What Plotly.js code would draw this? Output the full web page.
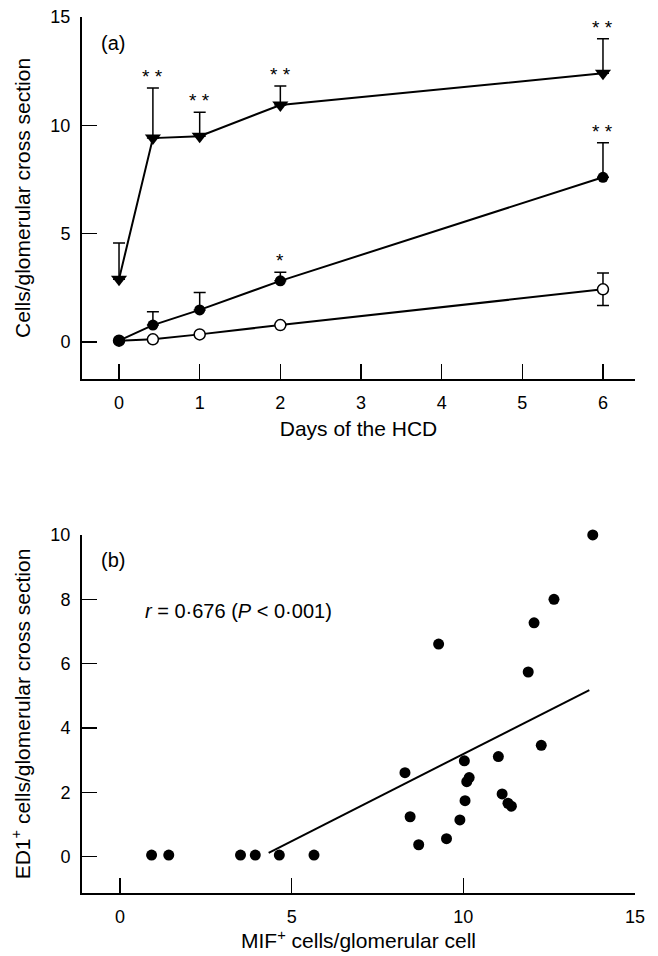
<!DOCTYPE html>
<html>
<head>
<meta charset="utf-8">
<script src="https://cdn.plot.ly/plotly-3.0.1.min.js"></script>
<style>
  html, body { margin: 0; padding: 0; background: #fff; }
  #chart { width: 658px; height: 956px; }
</style>
</head>
<body>
<div id="chart"></div>
<script>
// ---- Panel (a): cells per glomerular cross section over days of HCD ----
const days = [0, 0.42, 1, 2, 6];
const dayTicks = [0, 1, 2, 3, 4, 5, 6];

const triMean = [2.9, 9.41, 9.5, 10.94, 12.4];
const triErr  = [1.67, 2.31, 1.1, 0.87, 1.6];
const triStars = ['', '* *', '* *', '* *', '* *'];

const filledMean = [0.06, 0.78, 1.48, 2.82, 7.6];
const filledErr  = [0, 0.62, 0.8, 0.4, 1.6];
const filledStars = ['', '', '', '*', '* *'];

const openMean = [0.06, 0.12, 0.35, 0.78, 2.43];
const openErr  = [0, 0, 0, 0, 0.75];

// ---- Panel (b): ED1+ vs MIF+ ----
const mifX = [0.92, 1.42, 3.51, 3.94, 4.64, 5.65, 13.77, 12.64, 12.06, 9.28, 11.89, 12.27, 11.02,
              10.03, 8.30, 10.17, 10.10, 11.13, 10.05, 11.30, 11.40, 8.45, 9.90, 9.51, 8.70];
const ed1Y = [0.05, 0.05, 0.05, 0.05, 0.05, 0.05, 10.0, 8.0, 7.27, 6.61, 5.74, 3.46, 3.11,
              2.98, 2.61, 2.46, 2.33, 1.95, 1.74, 1.66, 1.57, 1.24, 1.14, 0.56, 0.37];
const fitX = [4.33, 13.67];
const fitY = [0.12, 5.18];

const zeros = days.map(() => 0);
const lineStyle = {color: '#000', width: 2};
const errStyle = (arr, minus) => ({type: 'data', symmetric: false, array: arr, arrayminus: minus,
                                   color: '#000', thickness: 1.5, width: 6});

const traces = [
  {x: days, y: openMean, xaxis: 'x', yaxis: 'y', mode: 'lines+markers', line: lineStyle, cliponaxis: false,
   marker: {symbol: 'circle', size: 11, color: '#fff', line: {color: '#000', width: 1.5}},
   error_y: errStyle(openErr, openErr), showlegend: false, hoverinfo: 'skip'},
  {x: days, y: filledMean, xaxis: 'x', yaxis: 'y', mode: 'lines+markers', line: lineStyle, cliponaxis: false,
   marker: {symbol: 'circle', size: 11, color: '#000'},
   error_y: errStyle(filledErr, zeros), showlegend: false, hoverinfo: 'skip'},
  {x: days, y: triMean, xaxis: 'x', yaxis: 'y', mode: 'lines+markers', line: lineStyle, cliponaxis: false,
   marker: {symbol: 'triangle-down', size: 14, color: '#000'},
   error_y: errStyle(triErr, zeros), showlegend: false, hoverinfo: 'skip'},
  {x: mifX, y: ed1Y, xaxis: 'x2', yaxis: 'y2', mode: 'markers', cliponaxis: false,
   marker: {symbol: 'circle', size: 11, color: '#000'}, showlegend: false, hoverinfo: 'skip'},
  {x: fitX, y: fitY, xaxis: 'x2', yaxis: 'y2', mode: 'lines', cliponaxis: false,
   line: lineStyle, showlegend: false, hoverinfo: 'skip'}
];

const FONT = 'Liberation Sans, Arial, Helvetica, sans-serif';
const annotations = [];
function addStars(stars, mean, err) {
  stars.forEach((s, i) => {
    if (!s) return;
    annotations.push({x: days[i], y: mean[i] + err[i], xref: 'x', yref: 'y', text: s,
      showarrow: false, yanchor: 'bottom', yshift: -1, font: {family: FONT, size: 19, color: '#000'}});
  });
}
addStars(triStars, triMean, triErr);
addStars(filledStars, filledMean, filledErr);

annotations.push({x: 0.0307, y: 0.970, xref: 'paper', yref: 'paper', text: '(a)', showarrow: false,
  xanchor: 'left', yanchor: 'middle', font: {family: FONT, size: 20, color: '#000'}});
annotations.push({x: 0.0307, y: 0.380, xref: 'paper', yref: 'paper', text: '(b)', showarrow: false,
  xanchor: 'left', yanchor: 'middle', font: {family: FONT, size: 20, color: '#000'}});
annotations.push({x: 0.110, y: 0.322, xref: 'paper', yref: 'paper',
  text: '<i>r</i> = 0·676 (<i>P</i> < 0·001)', showarrow: false,
  xanchor: 'left', yanchor: 'middle', font: {family: FONT, size: 20, color: '#000'}});

const axisCommon = {
  showline: true, linecolor: '#000', linewidth: 2, showgrid: false, zeroline: false,
  ticks: 'inside', ticklen: 15, tickwidth: 1.5, tickcolor: '#000',
  tickfont: {family: FONT, size: 18, color: '#000'}, mirror: false, fixedrange: true
};

const layout = {
  width: 658, height: 956,
  margin: {l: 82, r: 23, t: 17, b: 63},
  paper_bgcolor: '#fff', plot_bgcolor: '#fff',
  font: {family: FONT, color: '#000'},
  showlegend: false,
  xaxis: Object.assign({}, axisCommon, {
    domain: [0, 1], anchor: 'y', range: [-0.459, 6.397],
    tickmode: 'array', tickvals: dayTicks, ticktext: dayTicks.map(String), ticklabelstandoff: 6,
    title: {text: 'Days of the HCD', font: {family: FONT, size: 21, color: '#000'}, standoff: 10}
  }),
  yaxis: Object.assign({}, axisCommon, {
    domain: [0.5868, 1], anchor: 'x', range: [-1.708, 15],
    tickvals: [0, 5, 10, 15], ticklabelstandoff: 6,
    title: {text: 'Cells/glomerular cross section', font: {family: FONT, size: 21, color: '#000'}, standoff: 14}
  }),
  xaxis2: Object.assign({}, axisCommon, {
    domain: [0, 1], anchor: 'y2', range: [-1.107, 15],
    tickvals: [0, 5, 10, 15], ticklabelstandoff: 6,
    title: {text: 'MIF<sup>+</sup> cells/glomerular cell', font: {family: FONT, size: 21, color: '#000'}, standoff: 6}
  }),
  yaxis2: Object.assign({}, axisCommon, {
    domain: [0, 0.4087], anchor: 'x2', range: [-1.13, 10],
    tickvals: [0, 2, 4, 6, 8, 10], ticklabelstandoff: 6,
    title: {text: 'ED1<sup>+</sup> cells/glomerular cross section', font: {family: FONT, size: 21, color: '#000'}, standoff: 14}
  }),
  annotations: annotations
};

Plotly.newPlot('chart', traces, layout, {displayModeBar: false, staticPlot: true});
</script>
</body>
</html>
